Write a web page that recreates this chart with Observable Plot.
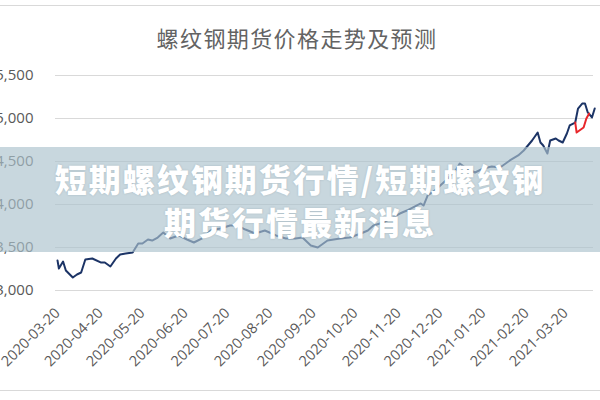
<!DOCTYPE html>
<html>
<head>
<meta charset="utf-8">
<script src="https://cdn.jsdelivr.net/npm/d3@7"></script>
<script src="https://cdn.jsdelivr.net/npm/@observablehq/plot@0.6"></script>
<style>
  html, body { margin: 0; padding: 0; background: #fff; }
  #wrap { position: relative; width: 600px; height: 400px; overflow: hidden; background: #fff; }
  #chart { position: absolute; left: 0; top: 0; }
  #frame { position: absolute; left: -10px; right: -10px; top: 5px; height: 384px;
           border-top: 1px solid #d9d9d9; border-bottom: 1px solid #d9d9d9; pointer-events: none; }
  #title { position: absolute; left: 0; width: 594px; top: 23px; text-align: center;
           font-family: "Noto Sans CJK SC", sans-serif; font-size: 22px; line-height: 28px;
           letter-spacing: 1.4px; color: #636363; }
  #band { position: absolute; left: 0; width: 600px; top: 147px; height: 105px;
          background: rgba(171, 194, 205, 0.66); box-sizing: border-box; padding-top: 10px;
          text-align: center; font-family: "Noto Sans CJK SC", sans-serif; font-weight: 900;
          font-size: 32px; line-height: 43px; letter-spacing: 2px; color: #fff;
          text-shadow: 0 0 2px rgba(60, 80, 90, 0.25); }
</style>
</head>
<body>
<div id="wrap">
  <div id="chart"></div>
  <div id="frame"></div>
  <div id="title"></div>
  <div id="band"><div id="band1"></div><div id="band2"></div></div>
</div>
<script>
const chartTitle = "螺纹钢期货价格走势及预测";
const bannerLines = ["短期螺纹钢期货行情/短期螺纹钢", "期货行情最新消息"];

const yTicks = [3000, 3500, 4000, 4500, 5000, 5500];
const xTickLabels = ["2020-03-20", "2020-04-20", "2020-05-20", "2020-06-20", "2020-07-20",
  "2020-08-20", "2020-09-20", "2020-10-20", "2020-11-20", "2020-12-20", "2021-01-20",
  "2021-02-20", "2021-03-20"];

const actualDates = [
  "2020-03-20","2020-03-21","2020-03-24","2020-03-26","2020-03-31","2020-04-03","2020-04-06",
  "2020-04-09","2020-04-14","2020-04-20","2020-04-23","2020-04-27","2020-05-01","2020-05-04",
  "2020-05-08","2020-05-13","2020-05-17","2020-05-20","2020-05-24","2020-05-27","2020-05-31",
  "2020-06-04","2020-06-09","2020-06-15","2020-06-21","2020-06-26","2020-07-03","2020-07-08",
  "2020-07-15","2020-07-22","2020-07-27","2020-08-02","2020-08-09","2020-08-16","2020-08-24",
  "2020-08-31","2020-09-07","2020-09-12","2020-09-18","2020-09-23","2020-09-30","2020-10-09",
  "2020-10-16","2020-10-24","2020-10-29","2020-11-02","2020-11-09","2020-11-16","2020-11-21",
  "2020-11-26","2020-12-06","2020-12-08","2020-12-11","2020-12-16","2020-12-24","2020-12-31",
  "2021-01-03","2021-01-08","2021-01-14","2021-01-20","2021-01-26","2021-02-01","2021-02-08",
  "2021-02-14","2021-02-18","2021-02-21","2021-02-24","2021-02-28","2021-03-02","2021-03-04",
  "2021-03-07","2021-03-09","2021-03-13","2021-03-15","2021-03-18","2021-03-20","2021-03-21",
  "2021-03-23","2021-03-27","2021-03-29","2021-04-01","2021-04-03","2021-04-05","2021-04-08",
  "2021-04-10"];
const actualValues = [
  3350, 3256, 3337, 3233, 3151, 3186, 3209,
  3360, 3372, 3326, 3326, 3279, 3372, 3419,
  3430, 3442, 3547, 3547, 3593, 3581, 3616,
  3674, 3605, 3640, 3593, 3558, 3616, 3698,
  3721, 3756, 3756, 3709, 3663, 3698, 3640,
  3605, 3605, 3616, 3523, 3500, 3581, 3605,
  3616, 3663, 3698, 3756, 3791, 3849, 3895,
  3930, 4012, 3988, 4105, 4163, 4279, 4396,
  4477, 4419, 4372, 4419, 4442, 4430, 4512,
  4570, 4628, 4686, 4744, 4837, 4721, 4686,
  4593, 4744, 4768, 4744, 4721, 4791, 4826,
  4919, 4953, 5116, 5174, 5174, 5070, 5012,
  5116];

const forecastDates = ["2021-03-27", "2021-03-28", "2021-04-02", "2021-04-04", "2021-04-06"];
const forecastValues = [4953, 4837, 4895, 5000, 5058];

const actual = actualDates.map((d, i) => ({date: new Date(d), value: actualValues[i]}));
const forecast = forecastDates.map((d, i) => ({date: new Date(d), value: forecastValues[i]}));

document.getElementById("title").textContent = chartTitle;
document.getElementById("band1").textContent = bannerLines[0];
document.getElementById("band2").textContent = bannerLines[1];

const chart = Plot.plot({
  width: 600,
  height: 400,
  marginLeft: 55,
  marginRight: 7,
  marginTop: 75,
  marginBottom: 110,
  style: {fontFamily: "'Open Sans', sans-serif", fontSize: "14.5px", color: "#595959", background: "transparent", overflow: "visible"},
  x: {
    type: "utc",
    domain: [new Date(xTickLabels[0]), new Date(xTickLabels[xTickLabels.length - 1])],
    range: [57, 565],
    ticks: xTickLabels.map(d => new Date(d)),
    tickFormat: d3.utcFormat("%Y-%m-%d"),
    tickRotate: -45,
    tickSize: 0,
    tickPadding: 20,
    label: null
  },
  y: {
    domain: [3000, 5500],
    ticks: yTicks,
    tickFormat: d3.format(","),
    tickSize: 0,
    tickPadding: 22,
    label: null
  },
  marks: [
    Plot.ruleY(yTicks, {stroke: "#d9d9d9", strokeWidth: 1}),
    Plot.line(actual, {x: "date", y: "value", stroke: "#1c3466", strokeWidth: 2, curve: "linear"}),
    Plot.line(forecast, {x: "date", y: "value", stroke: "#e8262a", strokeWidth: 2, curve: "linear"})
  ]
});
document.getElementById("chart").appendChild(chart);
d3.select(chart).selectAll('g[aria-label="y-axis"] text, g[aria-label="y-axis tick label"] text').style("font-size", "15px");
</script>
</body>
</html>
